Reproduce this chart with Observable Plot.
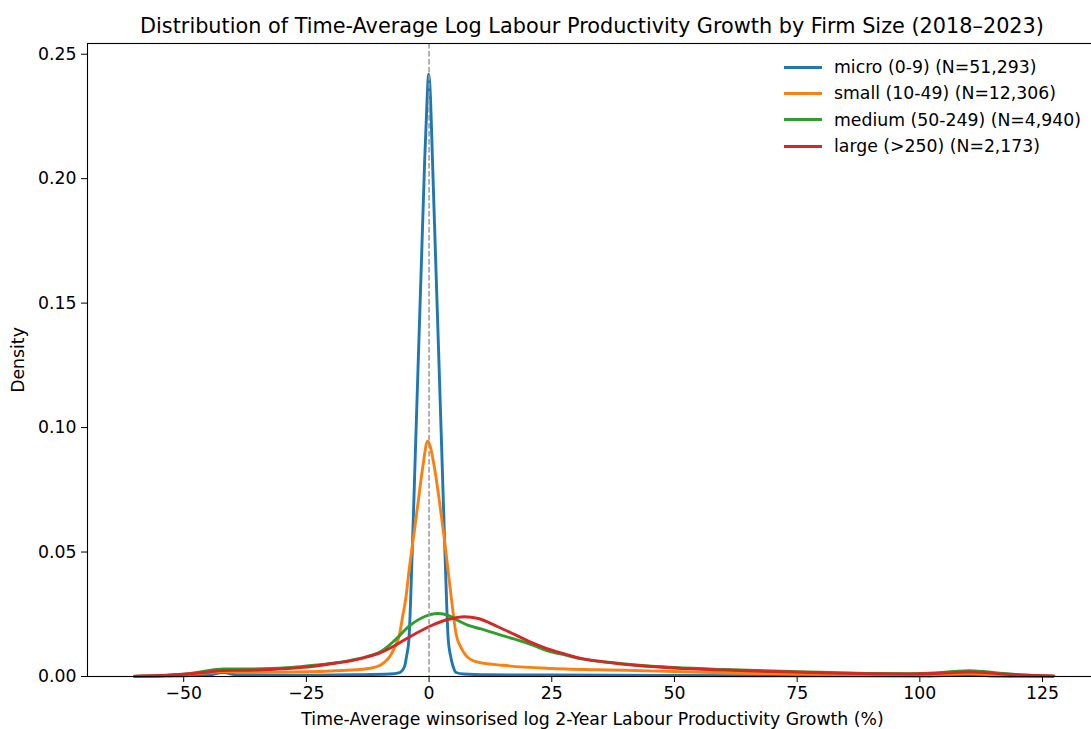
<!DOCTYPE html>
<html>
<head>
<meta charset="utf-8">
<script src="https://cdn.jsdelivr.net/npm/d3@7"></script>
<script src="https://cdn.jsdelivr.net/npm/@observablehq/plot@0.6"></script>
<style>
  body { margin: 0; background: #fff; font-family: "DejaVu Sans", sans-serif; }
  #wrap { position: relative; width: 1091px; height: 729px; overflow: hidden; background: #fff; }
  #title { height: 24px; padding-top: 16px; font-size: 20.8px; line-height: 21px; white-space: nowrap;
           position: relative; }
  #title span { position: absolute; left: 592px; transform: translateX(-50%); color: #000; }
  #legend { position: absolute; left: 784px; top: 54px; font-size: 17.3px; color: #000; }
  #legend .row { display: flex; align-items: center; height: 26.3px; white-space: nowrap; }
  #legend .swatch { width: 38px; height: 3px; margin-right: 12px; }
  svg { display: block; }
</style>
</head>
<body>
<div id="wrap">
  <div id="title"><span>Distribution of Time-Average Log Labour Productivity Growth by Firm Size (2018–2023)</span></div>
  <div id="chart"></div>
  <div id="legend"></div>
</div>
<script>
// Series labels and colours
const seriesNames = [
  "micro (0-9) (N=51,293)",
  "small (10-49) (N=12,306)",
  "medium (50-249) (N=4,940)",
  "large (>250) (N=2,173)"
];
const seriesColors = ["#1f77b4", "#ff7f0e", "#2ca02c", "#d62728"];

// Axis ticks
const xTicks = [-50, -25, 0, 25, 50, 75, 100, 125];
const yTicks = [0, 0.05, 0.10, 0.15, 0.20, 0.25];

// Kernel density estimates (growth %, density)
const microX = [-60, -55, -50, -45, -42, -39, -35, -25, -15, -8, -6, -5, -4.6, -4.1, -3.5, -2.85, -2.2, -1.55, -0.9, -0.4, -0.1,
  0.3, 0.7, 1.35, 2.0, 2.65, 3.3, 3.9, 4.4, 4.9, 5.5, 7, 12, 25, 50, 75, 100, 106, 110, 114, 120, 127];
const microY = [0.0000, 0.0001, 0.0003, 0.0006, 0.0016, 0.0006, 0.0004, 0.0005, 0.0007, 0.0010, 0.0016, 0.0040, 0.0080, 0.0150, 0.046, 0.0865, 0.127, 0.167, 0.207, 0.232, 0.242,
  0.232, 0.207, 0.167, 0.127, 0.0865, 0.046, 0.015, 0.008, 0.004, 0.0016, 0.0010, 0.0007, 0.0006, 0.0004, 0.0003, 0.0002, 0.0005, 0.0008, 0.0003, 0.0001, 0.0000];

const smallX = [-60, -55, -50, -45, -42, -38, -30, -20, -15, -12, -10, -8, -7, -6, -5.4, -4.8, -4.0, -3.1, -2.2, -1.3, -0.3,
  1.1, 2.1, 3.0, 3.8, 4.6, 5.5, 6.5, 7.5, 9.5, 15, 25, 40, 50, 60, 75, 90, 100, 106, 110, 114, 120, 127];
const smallY = [0.0000, 0.0003, 0.0008, 0.0015, 0.0020, 0.0016, 0.0017, 0.0022, 0.0027, 0.0033, 0.0045, 0.0080, 0.0117, 0.0171, 0.0240, 0.0305, 0.0438, 0.057, 0.0705, 0.0839, 0.0945,
  0.0839, 0.0705, 0.057, 0.0438, 0.0305, 0.0171, 0.0117, 0.0085, 0.0060, 0.0045, 0.0032, 0.0025, 0.0020, 0.0015, 0.0010, 0.0007, 0.0006, 0.0010, 0.0013, 0.0008, 0.0003, 0.0000];

const mediumX = [-60, -55, -50, -46, -42, -38, -34, -28, -24, -20, -16, -13, -10, -7, -4, -1, 1.8, 4, 6, 8, 10.6, 14, 17.3, 21, 24, 28, 31,
  36, 42, 50, 60, 70, 80, 90, 98, 103, 107, 110, 113, 117, 122, 127];
const mediumY = [0.0000, 0.0003, 0.0009, 0.0020, 0.0030, 0.0030, 0.0031, 0.0036, 0.0044, 0.0052, 0.0065, 0.0078, 0.0098, 0.0145, 0.0203, 0.0240, 0.0253, 0.0245, 0.0224, 0.0205, 0.0191, 0.0170, 0.0151, 0.0127, 0.0104, 0.0085, 0.0071,
  0.0058, 0.0046, 0.0036, 0.0028, 0.0022, 0.0017, 0.0012, 0.0011, 0.0014, 0.0020, 0.0023, 0.0020, 0.0012, 0.0005, 0.0001];

const largeX = [-60, -55, -50, -46, -42, -38, -34, -28, -24, -20, -16, -13, -10, -6.4, -3, 0.4, 4, 7.2, 10, 14, 17.5, 20.8, 24, 27.6, 31,
  36, 42, 50, 60, 70, 80, 90, 98, 103, 107, 110, 113, 117, 122, 127.3];
const largeY = [0.0001, 0.0004, 0.0009, 0.0016, 0.0024, 0.0025, 0.0027, 0.0033, 0.0040, 0.0051, 0.0063, 0.0077, 0.0095, 0.0131, 0.0170, 0.0204, 0.0230, 0.0240, 0.0233, 0.0200, 0.0168, 0.0137, 0.0112, 0.0091, 0.0073,
  0.0058, 0.0045, 0.0034, 0.0026, 0.0020, 0.0015, 0.0011, 0.0010, 0.0012, 0.0016, 0.0018, 0.0016, 0.0010, 0.0005, 0.0002];

const seriesX = [microX, smallX, mediumX, largeX];
const seriesY = [microY, smallY, mediumY, largeY];
const rows = seriesNames.flatMap((name, i) =>
  seriesX[i].map((x, j) => ({series: name, x, y: seriesY[i][j]})));

const fmtX = d => (d < 0 ? "\u2212" + Math.abs(d) : String(d));

const chart = Plot.plot({
  width: 1091,
  height: 689,
  marginLeft: 87,
  marginRight: -6,
  marginTop: 3,
  marginBottom: 53,
  x: {domain: [-69.6, 136.2]},
  y: {domain: [0, 0.2543]},
  color: {domain: seriesNames, range: seriesColors},
  style: {fontFamily: "DejaVu Sans", fontSize: "17.3px", color: "#000", background: "#fff", overflow: "hidden"},
  marks: [
    Plot.line(rows, {x: "x", y: "y", z: "series", stroke: "series", strokeWidth: 2.9, curve: "monotone-x"}),
    Plot.ruleX([0], {stroke: "#999", strokeWidth: 1.5, strokeDasharray: "5.5,2.5"}),
    Plot.frame({stroke: "#000", strokeWidth: 1.1}),
    Plot.axisX({ticks: xTicks, tickFormat: fmtX, tickSize: 6, tickPadding: 4,
      label: "Time-Average winsorised log 2-Year Labour Productivity Growth (%)",
      labelAnchor: "center", labelArrow: "none", labelOffset: 48}),
    Plot.axisY({ticks: yTicks, tickFormat: d3.format(".2f"), tickSize: 6, tickPadding: 5,
      label: "Density", labelAnchor: "center", labelArrow: "none", labelOffset: 76})
  ]
});
document.getElementById("chart").appendChild(chart);

// Legend
const legend = document.getElementById("legend");
seriesNames.forEach((name, i) => {
  const row = document.createElement("div");
  row.className = "row";
  const sw = document.createElement("div");
  sw.className = "swatch";
  sw.style.background = seriesColors[i];
  const label = document.createElement("span");
  label.textContent = name;
  row.appendChild(sw);
  row.appendChild(label);
  legend.appendChild(row);
});
</script>
</body>
</html>
